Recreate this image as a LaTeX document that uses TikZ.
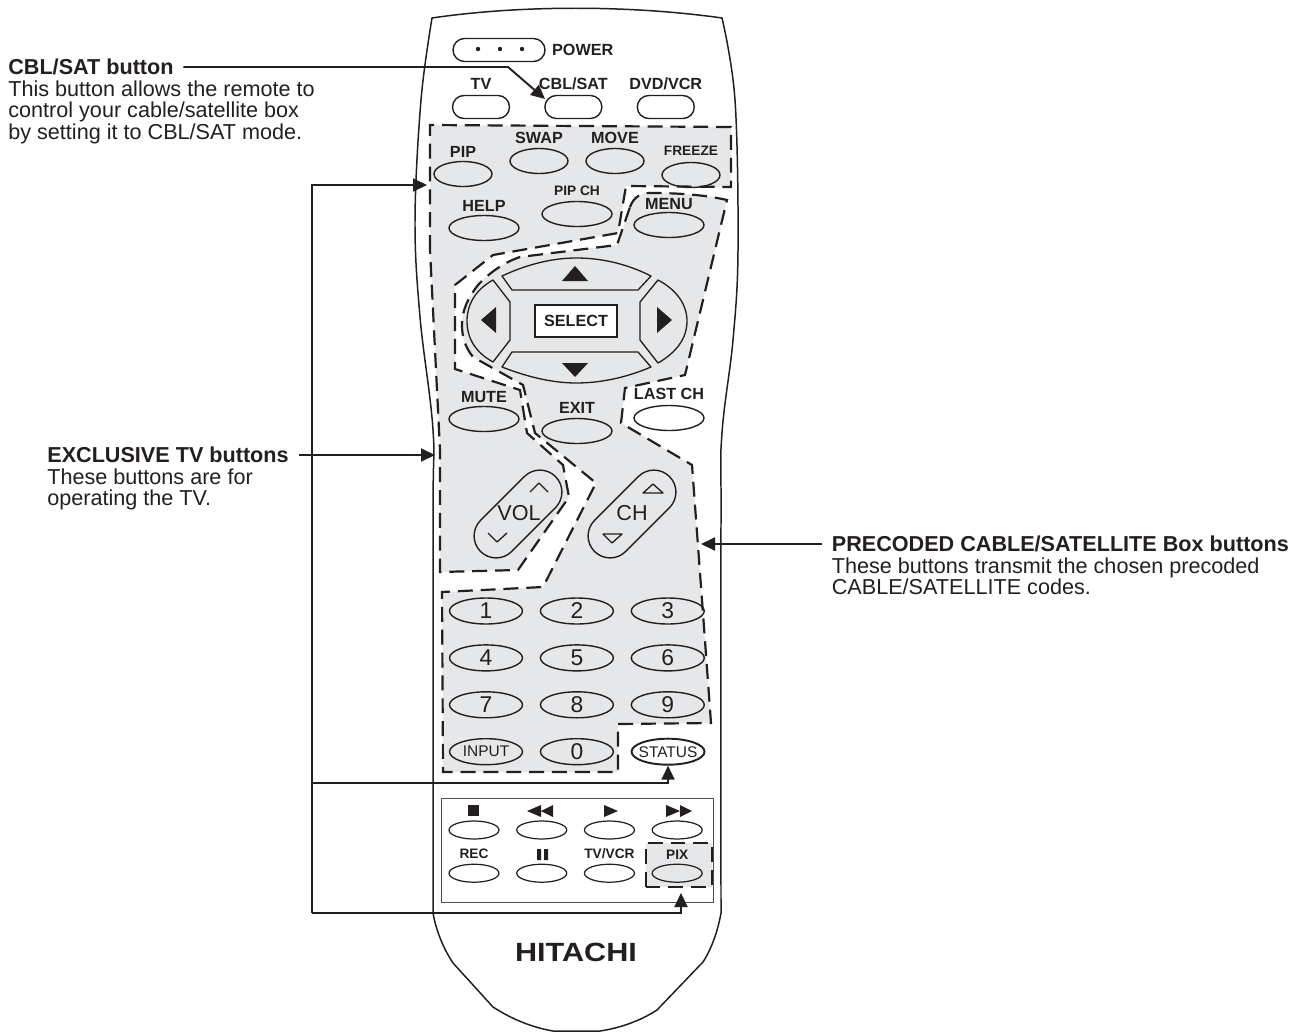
\documentclass[tikz,border=0pt]{standalone}
\definecolor{padgray}{HTML}{E6E7E9}
\definecolor{inkblack}{HTML}{231F20}
\definecolor{framegray}{HTML}{4D4D4F}
\usepackage{fontspec}
\setmainfont{Liberation Sans}
\usetikzlibrary{shapes.geometric, shapes.misc, arrows.meta, positioning}

\begin{document}
\begin{tikzpicture}[
    x=0.02cm, y=-0.02cm,
    node distance=0.39cm and 0.33cm,
    zone/.style={fill=padgray},
    zoneline/.style={draw=inkblack, line width=1.25pt, dash pattern=on 8.5pt off 4.5pt},
    shell/.style={draw=inkblack, line width=0.85pt, line join=round},
    thin line/.style={draw=inkblack, line width=0.75pt, line join=round},
    topkey/.style={rectangle, draw=inkblack, line width=0.8pt, minimum width=1.14cm, minimum height=0.46cm, rounded corners=0.23cm, inner sep=0pt},
    oval/.style={ellipse, draw=inkblack, line width=0.8pt, minimum width=1.16cm, minimum height=0.5cm, inner sep=0pt},
    wideoval/.style={oval, minimum width=1.4cm},
    tapekey/.style={oval, line width=0.7pt, minimum width=1cm, minimum height=0.36cm},
    numkey/.style={ellipse, draw=inkblack, line width=0.8pt, minimum width=1.46cm, minimum height=0.52cm, inner xsep=-3pt, inner ysep=0pt, text=inkblack, font=\fontsize{13}{13}\selectfont},
    smallnum/.style={numkey, font=\fontsize{8.8}{9}\selectfont},
    pill/.style={rounded rectangle, draw=inkblack, line width=0.8pt, rotate=45, minimum width=2.12cm, minimum height=0.88cm, inner sep=0pt},
    lab/.style={inner sep=0pt, text=inkblack, font=\fontsize{9.2}{9}\selectfont\bfseries},
    smalllab/.style={inner sep=0pt, text=inkblack, font=\fontsize{7.8}{8}\selectfont\bfseries},
    plainlab/.style={inner sep=0pt, text=inkblack, font=\fontsize{12.3}{12}\selectfont},
    notetitle/.style={anchor=west, inner xsep=5.4pt, inner ysep=0pt, text=inkblack, text height=10.3pt, text depth=1.7pt, font=\fontsize{12.3}{12}\selectfont\bfseries},
    notebody/.style={inner xsep=5.4pt, inner ysep=0pt, align=left, text=inkblack, font=\fontsize{12.3}{12}\selectfont},
    arr/.style={-{Triangle[length=2.8mm, width=2.6mm]}, draw=inkblack, line width=1.1pt},
    glyph/.style={fill=inkblack},
  ]
    \useasboundingbox (0,0) rectangle (1301,1031);

    \fill[zone] (430,125) -- (731,127) -- (731,187) -- (626,186) -- (618,233) -- (493,255) -- (455,285) -- (455,369) -- (520,390) -- (527,433) -- (563,465) -- (569,497) -- (518,570) -- (440,572) -- (440,450) -- (430,250) -- cycle;
    \draw[zoneline] (430,250) -- (430,125) -- (731,127) -- (731,187) -- (626,186) -- (618,233) -- (493,255) -- (455,285) -- (455,369) -- (520,390) -- (527,433) -- (563,465) -- (569,497) -- (518,570) -- (440,572) -- (440,450) -- cycle;

    \fill[zone] (630,207) .. controls (634,196) and (642,193) .. (650,193) .. controls (680,193) and (705,195) .. (727,200) -- (685,375) -- (625,388) -- (621,423) -- (692,465) -- (702,600) -- (711,723) -- (618,724) -- (618,772) -- (443,772) -- (442,592) -- (543,587) -- (596,483) -- (535,433) -- (523,385) -- (473,357) .. controls (465,347) and (462,337) .. (462,325) .. controls (462,310) and (468,298) .. (478,285) .. controls (490,272) and (505,262) .. (520,257) -- (617,245) -- cycle;
    \draw[zoneline] (630,207) .. controls (634,196) and (642,193) .. (650,193) .. controls (680,193) and (705,195) .. (727,200) -- (685,375) -- (625,388) -- (621,423) -- (692,465) -- (702,600) -- (711,723) -- (618,724) -- (618,772) -- (443,772) -- (442,592) -- (543,587) -- (596,483) -- (535,433) -- (523,385) -- (473,357) .. controls (465,347) and (462,337) .. (462,325) .. controls (462,310) and (468,298) .. (478,285) .. controls (490,272) and (505,262) .. (520,257) -- (617,245) -- cycle;

    \draw[shell] (432,18) .. controls (520,5) and (630,5) .. (722,18) -- plot[smooth, tension=0.6] coordinates {(722,18) (735,100) (738,250) (733,340) (722,433) (721,520) (721,913)} .. controls (718,930) and (712,948) .. (703,962) -- (657,1010) .. controls (640,1021) and (620,1028) .. (600,1031) -- (553,1031) .. controls (530,1027) and (510,1018) .. (493,1007) -- (453,963) .. controls (443,948) and (436,930) .. (433,913) -- plot[smooth, tension=0.6] coordinates {(433,913) (433,520) (433,430) (420,317) (415,220) (421,100) (432,18)} -- cycle;

    \node[rectangle, draw=inkblack, line width=0.8pt, minimum width=1.84cm, minimum height=0.46cm, rounded corners=0.23cm, inner sep=0pt] (powerbtn) at (499,50) {};
    \fill[glyph] (478,49) circle (2.2) (500,49) circle (2.2) (522,49) circle (2.2);
    \node[lab, right=3.5pt of powerbtn] (powerlab) {POWER};

    \node[topkey] (tvbtn) at (481,107) {};
    \node[topkey, right=0.68cm of tvbtn] (cblbtn) {};
    \node[topkey, right=0.68cm of cblbtn] (dvdbtn) {};
    \node[lab, above=2.8pt of tvbtn] (tvlab) {TV};
    \node[lab, above=2.8pt of cblbtn] (cbllab) {CBL/SAT};
    \node[lab, above=2.8pt of dvdbtn] (dvdlab) {DVD/VCR};

    \node[oval] (pipbtn) at (463,174) {};
    \node[oval] (swapbtn) at (539,161) {};
    \node[oval] (movebtn) at (615,161) {};
    \node[oval] (freezebtn) at (691,175) {};
    \node[wideoval] (helpbtn) at (484,228) {};
    \node[wideoval] (pipchbtn) at (577,214) {};
    \node[wideoval] (menubtn) at (669,225) {};
    \node[lab, above=1.5pt of pipbtn] (piplab) {PIP};
    \node[lab, above=2pt of swapbtn] (swaplab) {SWAP};
    \node[lab, above=2pt of movebtn] (movelab) {MOVE};
    \node[smalllab, above=3.2pt of freezebtn] (freezelab) {FREEZE};
    \node[lab, above=1.8pt of helpbtn] (helplab) {HELP};
    \node[smalllab, above=2.6pt of pipchbtn] (pipchlab) {PIP CH};
    \node[lab, above=1.2pt of menubtn] (menulab) {MENU};

    \draw[thin line] (502,276) .. controls (530,263) and (555,258) .. (576,258) .. controls (600,258) and (625,263) .. (651,276) -- (638,290) -- (512,290) -- cycle;
    \draw[thin line] (502,367) .. controls (530,378) and (555,383) .. (576,383) .. controls (600,383) and (625,378) .. (651,367) -- (638,352) -- (512,352) -- cycle;
    \draw[thin line] (493,280) .. controls (475,290) and (467,305) .. (467,321) .. controls (467,338) and (475,352) .. (493,362) -- (510,340) -- (510,302) -- cycle;
    \draw[thin line] (658,280) .. controls (677,290) and (687,305) .. (687,321) .. controls (687,338) and (677,352) .. (658,363) -- (640,340) -- (640,302) -- cycle;
    \fill[glyph] (575,266) -- (562,281) -- (588,281) -- cycle;
    \fill[glyph] (575,377) -- (562,363) -- (588,363) -- cycle;
    \fill[glyph] (481,320) -- (496,307) -- (496,333) -- cycle;
    \fill[glyph] (672,320) -- (657,307) -- (657,333) -- cycle;
    \node[lab, rectangle, draw=inkblack, line width=0.8pt, fill=white, minimum width=1.64cm, minimum height=0.64cm] (selectbtn) at (576,321) {SELECT};

    \node[wideoval] (mutebtn) at (484,419) {};
    \node[wideoval] (exitbtn) at (577,431) {};
    \node[wideoval, fill=white] (lastbtn) at (669,418) {};
    \node[lab, above=1.6pt of mutebtn] (mutelab) {MUTE};
    \node[lab, above=2.5pt of exitbtn] (exitlab) {EXIT};
    \node[lab, above=2.8pt of lastbtn] (lastlab) {LAST CH};

    \node[pill] (volbtn) at (518,514) {};
    \node[pill] (chbtn) at (632,514) {};
    \node[plainlab] (vollab) at (519,513) {VOL};
    \node[plainlab] (chlab) at (632,513) {CH};
    \draw[thin line] (530,492) -- (539,483) -- (548,492);
    \draw[thin line] (488,533) -- (497,542) -- (507,533);
    \draw[thin line] (643,493) -- (653,484) -- (663,493) -- cycle;
    \draw[thin line] (603,534) -- (612,543) -- (622,534) -- cycle;

    \node[numkey] (k1) at (486,611) {1};
    \node[numkey, right=of k1] (k2) {2};
    \node[numkey, right=of k2] (k3) {3};
    \node[numkey, below=of k1] (k4) {4};
    \node[numkey, right=of k4] (k5) {5};
    \node[numkey, right=of k5] (k6) {6};
    \node[numkey, below=of k4] (k7) {7};
    \node[numkey, right=of k7] (k8) {8};
    \node[numkey, right=of k8] (k9) {9};
    \node[smallnum, below=of k7] (inputbtn) {INPUT};
    \node[numkey, right=of inputbtn] (k0) {0};
    \node[smallnum, line width=1.1pt, fill=white, right=of k0] (statusbtn) {STATUS};

    \draw[draw=framegray, line width=0.55pt] (441,798) rectangle (713,902);
    \fill[zone] (646,843) rectangle (712,887);
    \draw[zoneline] (646,887) -- (646,843) -- (712,843) -- (712,887) -- cycle;

    \node[tapekey] (stopbtn) at (474,830) {};
    \node[tapekey, right=of stopbtn] (rewbtn) {};
    \node[tapekey, right=of rewbtn] (playbtn) {};
    \node[tapekey, right=of playbtn] (ffbtn) {};
    \node[tapekey, below=0.48cm of stopbtn] (recbtn) {};
    \node[tapekey, right=of recbtn] (pausebtn) {};
    \node[tapekey, right=of pausebtn] (tvvcrbtn) {};
    \node[tapekey, right=of tvvcrbtn] (pixbtn) {};
    \node[smalllab, above=2.4pt of recbtn] (reclab) {REC};
    \node[smalllab, above=2.4pt of tvvcrbtn] (tvvcrlab) {TV/VCR};
    \node[smalllab, above=2.4pt of pixbtn] (pixlab) {PIX};
    \fill[glyph] (468,805) rectangle (479,816);
    \fill[glyph] (527,811) -- (541,805) -- (541,817) -- cycle (541,811) -- (553,805) -- (553,817) -- cycle;
    \fill[glyph] (604,805) -- (618,811) -- (604,817) -- cycle;
    \fill[glyph] (666,805) -- (680,811) -- (666,817) -- cycle (680,805) -- (692,811) -- (680,817) -- cycle;
    \fill[glyph] (537,849) rectangle (541,860) (544,849) rectangle (548,860);

    \node[inner sep=0pt, text=inkblack, font=\fontsize{15}{15}\selectfont\bfseries] (logo) at (576,952) {\scalebox{1.16}[1]{HITACHI}};

    \node[notetitle] (cbltitle) at (-1.5,67) {CBL/SAT button};
    \node[notebody, below=1.7pt of cbltitle.south west, anchor=north west] (cblnote) {\rule{0pt}{8.4pt}This button allows the remote to\\control your cable/satellite box\\by setting it to CBL/SAT mode.};
    \node[notetitle] (tvtitle) at (37.5,455) {EXCLUSIVE TV buttons};
    \node[notebody, below=1.7pt of tvtitle.south west, anchor=north west] (tvnote) {\rule{0pt}{8.4pt}These buttons are for\\operating the TV.};
    \node[notetitle] (boxtitle) at (822,544) {PRECODED CABLE/SATELLITE Box buttons};
    \node[notebody, below=1.7pt of boxtitle.south west, anchor=north west] (boxnote) {\rule{0pt}{8.4pt}These buttons transmit the chosen precoded\\CABLE/SATELLITE codes.};

    \coordinate (cblbend) at (508,67);
    \coordinate (cbltip) at (545,99);
    \coordinate (trunktop) at (312,185);
    \coordinate (trunkstat) at (312,783);
    \coordinate (trunkbot) at (312,913);
    \coordinate (pipzone) at (427,185);
    \coordinate (pixtip) at (681,893);
    \coordinate (tvzone) at (435,455);
    \coordinate (boxzone) at (701,544);

    \draw[arr] (cbltitle) -- (cblbend) -- (cbltip);
    \draw[arr] (trunkbot) -- (trunktop) -- (pipzone);
    \draw[arr] (trunkstat) -| (statusbtn.south);
    \draw[arr] (trunkbot) -| (pixtip);
    \draw[arr] (tvtitle) -- (tvzone);
    \draw[arr] (boxtitle) -- (boxzone);
  \end{tikzpicture}
\end{document}
